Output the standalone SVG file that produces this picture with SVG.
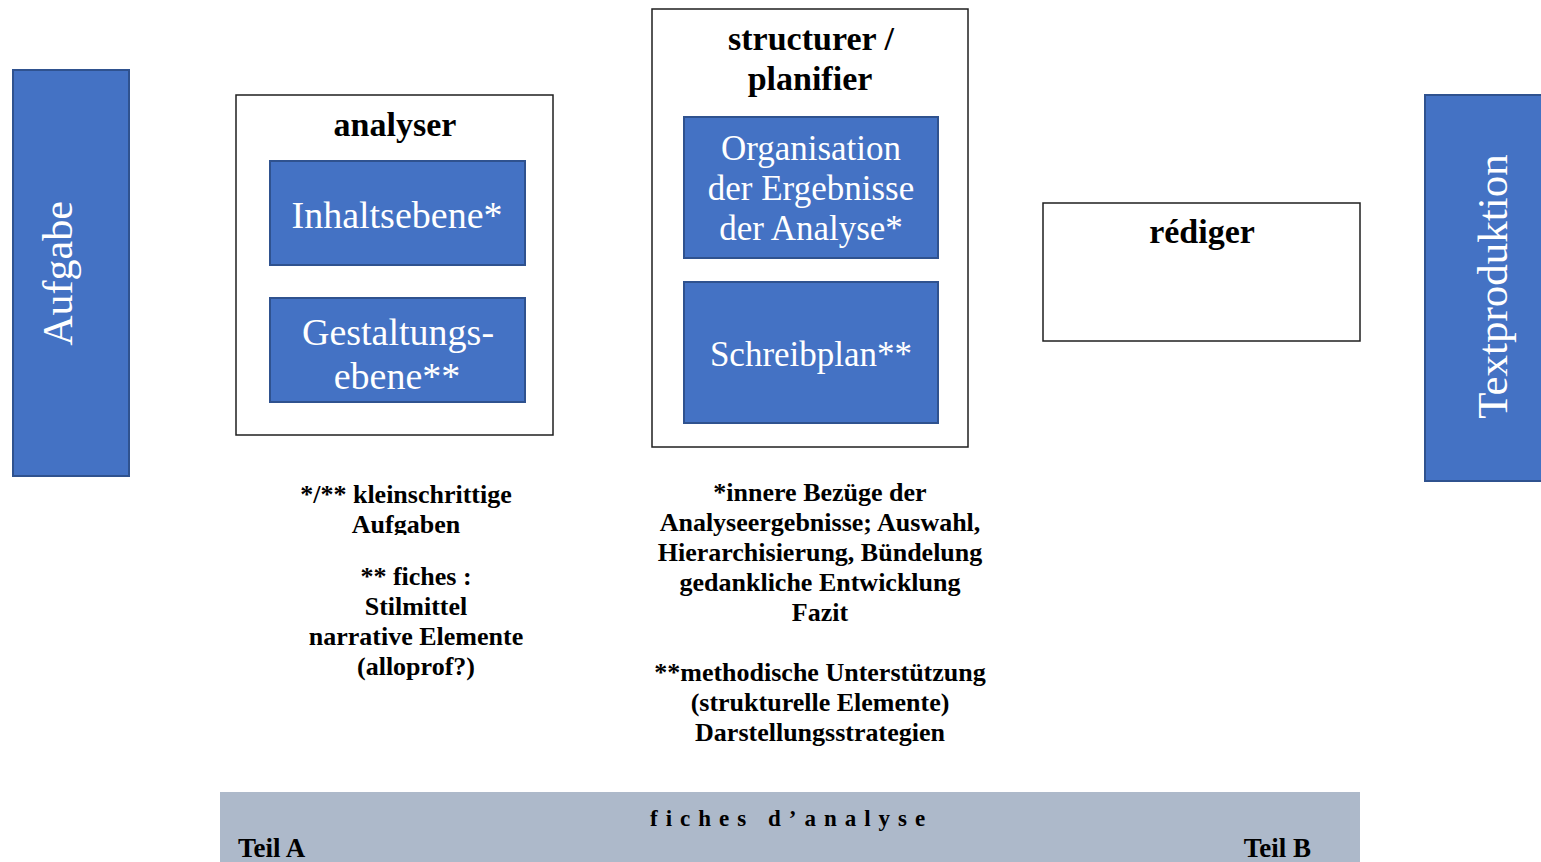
<svg xmlns="http://www.w3.org/2000/svg" width="1541" height="862" viewBox="0 0 1541 862">
  <style>
    .blue { fill: #4472C4; stroke: #2F528F; stroke-width: 2; }
    .frame { fill: #FFFFFF; stroke: #1F1F1F; stroke-width: 1.5; }
    .inner { font-family: "Liberation Serif", "Times New Roman", serif; fill: #FFFFFF; text-anchor: middle; }
    .title { font-family: "Liberation Serif", "Times New Roman", serif; font-weight: bold; font-size: 34px; fill: #000; text-anchor: middle; }
    .note { font-family: "Liberation Serif", "Times New Roman", serif; font-weight: bold; font-size: 26px; fill: #000; text-anchor: middle; }
    .band { font-family: "Liberation Serif", "Times New Roman", serif; font-weight: bold; fill: #000; }
  </style>
  <defs>
    <clipPath id="clipNote">
      <rect x="280" y="470" width="260" height="65"/>
    </clipPath>
  </defs>
  <rect width="1541" height="862" fill="#FFFFFF"/>

  <!-- Aufgabe column -->
  <g id="aufgabe">
    <rect class="blue" x="13" y="70" width="116" height="406"/>
    <text class="inner" font-size="42" transform="translate(72,273.5) rotate(-90)">Aufgabe</text>
  </g>

  <!-- analyser -->
  <g id="analyser">
    <rect class="frame" x="236" y="95" width="317" height="340"/>
    <text class="title" x="395" y="136">analyser</text>
  </g>
  <g id="inhaltsebene">
    <rect class="blue" x="270" y="161" width="255" height="104"/>
    <text class="inner" font-size="38" x="397" y="228">Inhaltsebene*</text>
  </g>
  <g id="gestaltungsebene">
    <rect class="blue" x="270" y="298" width="255" height="104"/>
    <text class="inner" font-size="38" x="398" y="345">Gestaltungs-</text>
    <text class="inner" font-size="38" x="397" y="389">ebene**</text>
  </g>

  <!-- structurer / planifier -->
  <g id="structurer">
    <rect class="frame" x="652" y="9" width="316" height="438"/>
    <text class="title" x="811" y="50">structurer /</text>
    <text class="title" x="810" y="90">planifier</text>
  </g>
  <g id="organisation">
    <rect class="blue" x="684" y="117" width="254" height="141"/>
    <text class="inner" font-size="35" x="811" y="160">Organisation</text>
    <text class="inner" font-size="35" x="811" y="200">der Ergebnisse</text>
    <text class="inner" font-size="35" x="811" y="240">der Analyse*</text>
  </g>
  <g id="schreibplan">
    <rect class="blue" x="684" y="282" width="254" height="141"/>
    <text class="inner" font-size="35" x="811" y="366">Schreibplan**</text>
  </g>

  <!-- rédiger -->
  <g id="rediger">
    <rect class="frame" x="1043" y="203" width="317" height="138"/>
    <text class="title" x="1202" y="243">rédiger</text>
  </g>

  <!-- Textproduktion column -->
  <g id="textproduktion">
    <rect class="blue" x="1425" y="95" width="120" height="386"/>
    <text class="inner" font-size="43" transform="translate(1507,286.5) rotate(-90)">Textproduktion</text>
  </g>

  <!-- notes under analyser -->
  <g id="notes-analyser">
    <g clip-path="url(#clipNote)">
      <text class="note" x="406" y="503">*/** kleinschrittige</text>
      <text class="note" x="406" y="533">Aufgaben</text>
    </g>
    <text class="note" x="416" y="585">** fiches :</text>
    <text class="note" x="416" y="615">Stilmittel</text>
    <text class="note" x="416" y="645">narrative Elemente</text>
    <text class="note" x="416" y="675">(alloprof?)</text>
  </g>

  <!-- notes under structurer / planifier -->
  <g id="notes-structurer">
    <text class="note" x="820" y="501">*innere Bezüge der</text>
    <text class="note" x="820" y="531">Analyseergebnisse; Auswahl,</text>
    <text class="note" x="820" y="561">Hierarchisierung, Bündelung</text>
    <text class="note" x="820" y="591">gedankliche Entwicklung</text>
    <text class="note" x="820" y="621">Fazit</text>
    <text class="note" x="820" y="681">**methodische Unterstützung</text>
    <text class="note" x="820" y="711">(strukturelle Elemente)</text>
    <text class="note" x="820" y="741">Darstellungsstrategien</text>
  </g>

  <!-- fiches d'analyse band -->
  <g id="fiches-band">
    <rect x="220" y="792" width="1140" height="70" fill="#ADB9CA"/>
    <text class="band" font-size="23" letter-spacing="8" x="650" y="826">fiches d’analyse</text>
    <text class="band" font-size="27" x="238" y="857">Teil A</text>
    <text class="band" font-size="27" x="1311" y="857" text-anchor="end">Teil B</text>
  </g>

  <!-- connectors: none drawn -->
  <g id="connectors"/>
</svg>
